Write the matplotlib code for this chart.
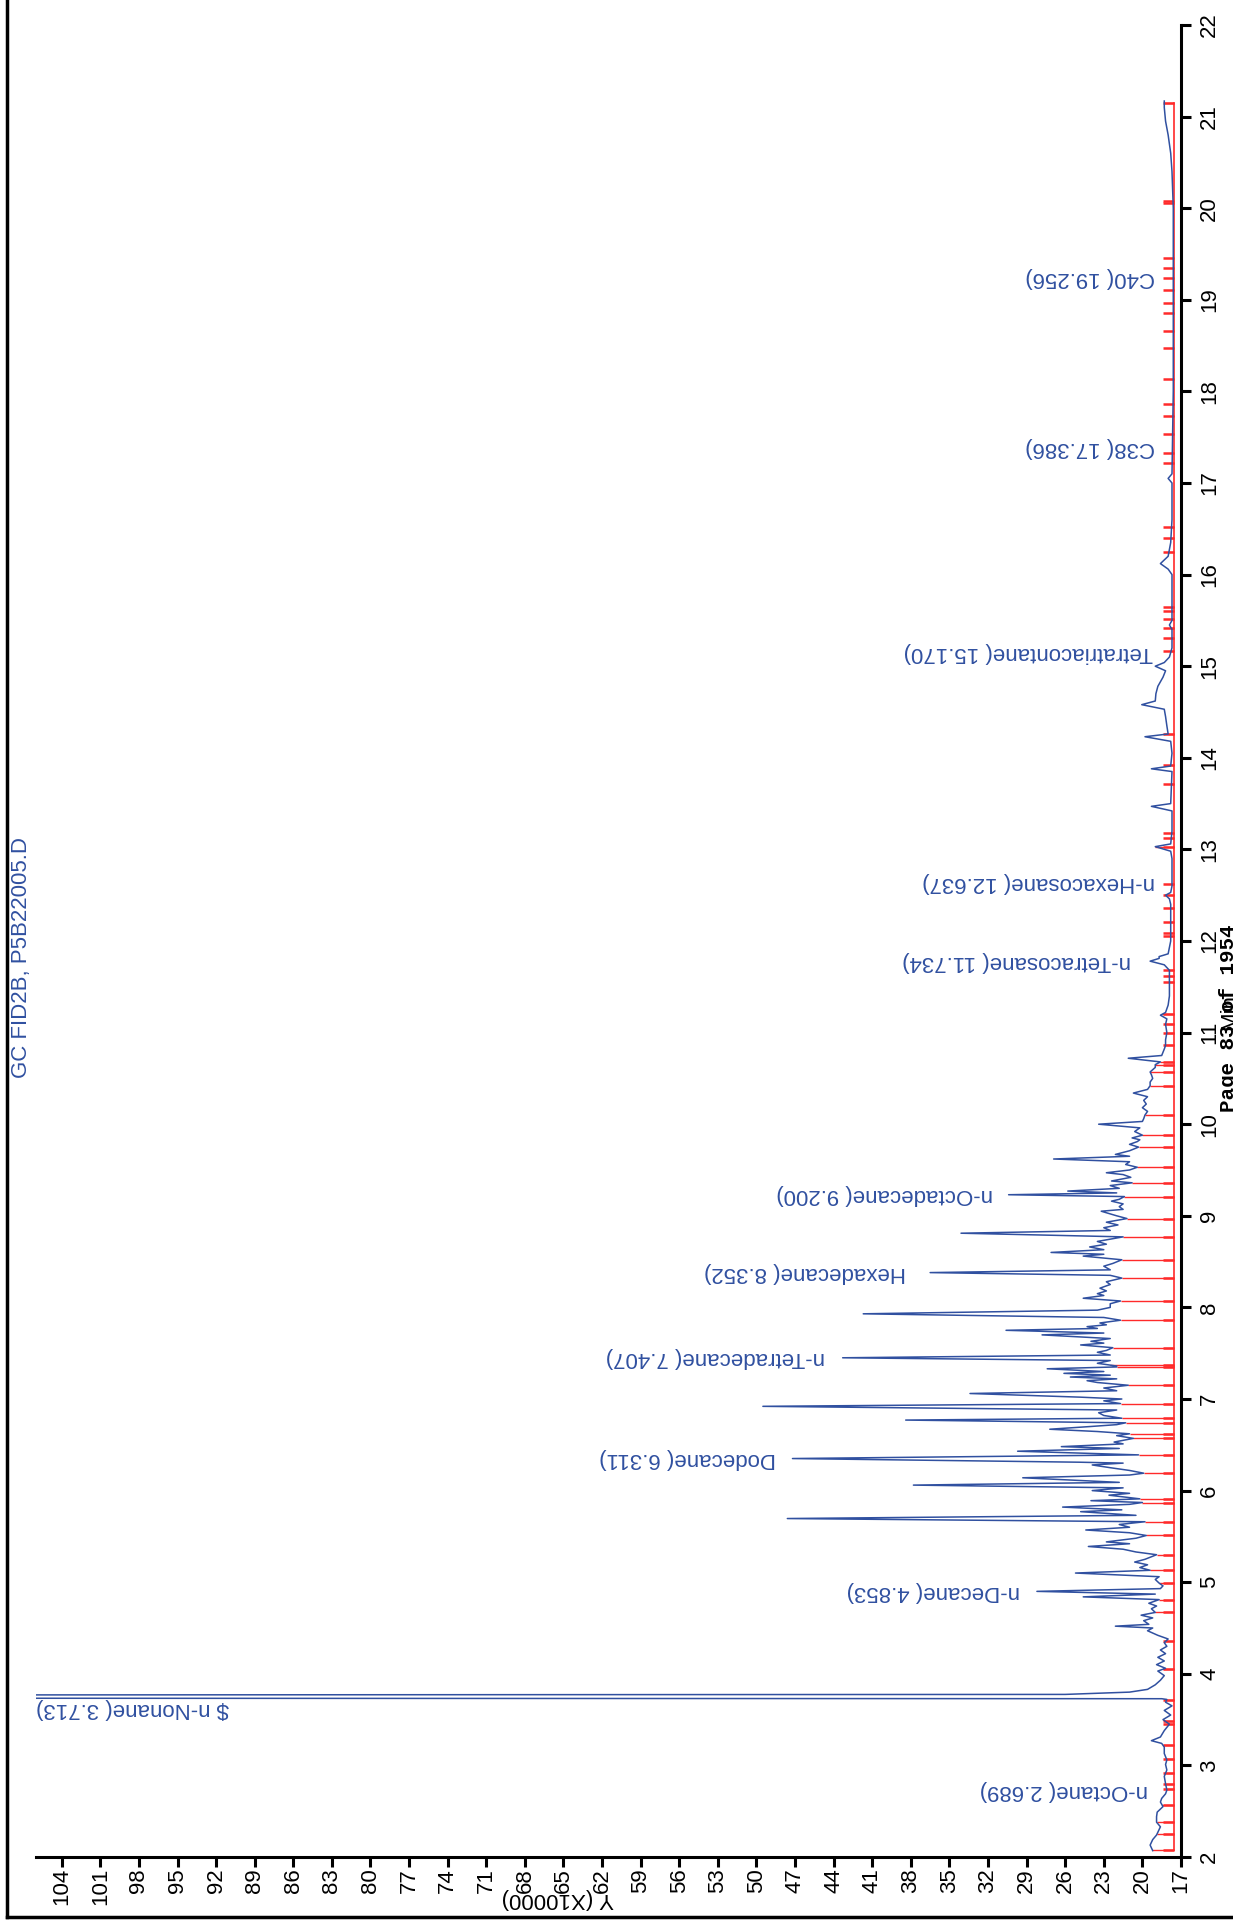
import numpy as np
import matplotlib
matplotlib.use("Agg")
import matplotlib.pyplot as plt
from matplotlib.lines import Line2D
from matplotlib.collections import LineCollection

plt.rcParams["font.family"] = ["Liberation Sans", "DejaVu Sans"]

BLUE = "#3050a0"
RED = "#ff2a2a"

# ---- chromatogram (retention time in min, response in x10000) ----
trace_t = [
    2.07, 2.10, 2.13, 2.19, 2.24, 2.30, 2.33, 2.38, 2.44, 2.49, 2.55, 2.60, 2.64, 2.69, 2.73,
    2.80, 2.88, 2.95, 3.01, 3.06, 3.13, 3.20, 3.24, 3.27, 3.31, 3.38, 3.45, 3.50, 3.55, 3.60,
    3.65, 3.69, 3.72, 3.728, 3.75, 3.775, 3.80, 3.83, 3.88, 3.93, 3.98, 4.03, 4.06, 4.10, 4.14,
    4.18, 4.22, 4.26, 4.30, 4.34, 4.38, 4.42, 4.47, 4.50, 4.52, 4.54, 4.58, 4.61, 4.64, 4.67,
    4.71, 4.74, 4.77, 4.81, 4.84, 4.87, 4.90, 4.93, 4.96, 4.99, 5.03, 5.06, 5.10, 5.13, 5.16,
    5.19, 5.22, 5.25, 5.30, 5.33, 5.36, 5.39, 5.42, 5.44, 5.48, 5.51, 5.54, 5.57, 5.60, 5.63,
    5.66, 5.695, 5.73, 5.77, 5.79, 5.82, 5.85, 5.87, 5.89, 5.91, 5.95, 5.97, 6.00, 6.03, 6.06,
    6.09, 6.11, 6.14, 6.17, 6.19, 6.22, 6.25, 6.28, 6.30, 6.31, 6.35, 6.39, 6.43, 6.46, 6.48,
    6.51, 6.53, 6.57, 6.60, 6.62, 6.645, 6.67, 6.70, 6.72, 6.74, 6.77, 6.79, 6.82, 6.85, 6.88,
    6.92, 6.95, 6.98, 7.00, 7.02, 7.06, 7.09, 7.12, 7.15, 7.18, 7.20, 7.22, 7.24, 7.26, 7.28,
    7.30, 7.33, 7.35, 7.36, 7.39, 7.42, 7.45, 7.48, 7.51, 7.53, 7.56, 7.59, 7.61, 7.63, 7.66,
    7.70, 7.72, 7.75, 7.77, 7.79, 7.81, 7.83, 7.86, 7.89, 7.93, 7.97, 8.00, 8.04, 8.07, 8.10,
    8.13, 8.15, 8.18, 8.21, 8.25, 8.28, 8.32, 8.35, 8.38, 8.41, 8.45, 8.48, 8.52, 8.56, 8.58,
    8.60, 8.63, 8.66, 8.69, 8.72, 8.77, 8.81, 8.84, 8.87, 8.90, 8.93, 8.97, 9.00, 9.05, 9.07,
    9.10, 9.13, 9.16, 9.18, 9.21, 9.23, 9.25, 9.27, 9.30, 9.33, 9.36, 9.38, 9.42, 9.45, 9.47,
    9.50, 9.53, 9.56, 9.59, 9.62, 9.65, 9.67, 9.71, 9.75, 9.78, 9.81, 9.83, 9.85, 9.88, 9.92,
    9.96, 10.00, 10.03, 10.06, 10.10, 10.14, 10.18, 10.22, 10.26, 10.30, 10.34, 10.38, 10.42,
    10.46, 10.50, 10.54, 10.57, 10.62, 10.65, 10.68, 10.72, 10.75, 10.82, 10.86, 10.92, 11.00,
    11.09, 11.15, 11.19, 11.22, 11.30, 11.40, 11.55, 11.62, 11.68, 11.74, 11.78, 11.81, 11.83,
    11.86, 12.00, 12.20, 12.40, 12.46, 12.50, 12.53, 12.60, 12.90, 12.98, 13.03, 13.06, 13.20,
    13.42, 13.47, 13.50, 13.85, 13.88, 13.91, 14.05, 14.18, 14.23, 14.26, 14.35, 14.45, 14.53,
    14.58, 14.62, 14.70, 14.78, 14.88, 14.95, 15.00, 15.04, 15.10, 15.20, 15.40, 15.45, 15.50,
    16.00, 16.06, 16.12, 16.20, 16.35, 16.60, 17.00, 17.05, 17.10, 18.00, 19.00, 20.00, 20.40,
    20.60, 20.80, 20.95, 21.10, 21.17,
]
trace_v = [
    19.2, 19.3, 19.4, 19.2, 18.9, 18.7, 18.6, 18.9, 18.9, 18.85, 18.4, 18.6, 18.5, 18.2, 18.1,
    18.2, 18.3, 18.1, 18.2, 18.1, 18.3, 18.3, 18.5, 19.3, 18.6, 18.3, 17.9, 18.4, 17.8, 18.3,
    17.7, 18.2, 18.1, 18.5, 400.0, 26.0, 21.0, 19.6, 19.0, 18.6, 18.3, 18.8, 18.2, 18.9, 18.3,
    18.8, 18.2, 18.6, 18.1, 18.3, 18.0, 18.8, 19.6, 19.2, 22.1, 19.5, 19.9, 19.2, 20.1, 19.0,
    19.3, 18.9, 19.5, 18.7, 24.6, 19.0, 28.2, 18.6, 18.4, 18.7, 19.0, 18.7, 25.2, 19.4, 20.2,
    19.6, 20.6, 19.8, 18.9, 20.5, 21.5, 24.2, 21.0, 22.8, 20.5, 19.7, 21.0, 24.4, 21.0, 21.8,
    19.8, 47.6, 20.5, 24.8, 21.6, 26.2, 21.0, 20.0, 24.0, 20.2, 22.6, 21.0, 23.9, 21.5, 37.8,
    21.8, 24.8, 29.3, 21.0, 19.9, 21.0, 22.5, 23.9, 21.5, 24.9, 47.2, 20.3, 29.7, 21.8, 26.3,
    21.5, 22.2, 20.7, 22.0, 21.0, 23.5, 27.2, 24.0, 22.0, 21.3, 38.4, 21.6, 23.0, 23.4, 22.0,
    49.5, 21.7, 23.0, 21.6, 24.8, 33.4, 22.0, 23.0, 21.1, 23.5, 24.3, 22.0, 25.6, 22.5, 26.1,
    23.0, 27.4, 22.0, 22.0, 23.5, 22.5, 43.3, 22.5, 23.5, 22.8, 22.3, 24.8, 23.0, 24.0, 22.5,
    27.8, 23.0, 30.6, 23.5, 24.3, 22.8, 23.3, 21.7, 23.0, 41.7, 23.5, 22.5, 22.5, 21.7, 24.6,
    23.0, 23.5, 22.8, 23.3, 22.5, 22.8, 21.6, 22.5, 36.5, 22.5, 23.0, 22.3, 21.6, 24.6, 23.0,
    27.1, 23.0, 24.1, 22.8, 23.5, 21.5, 34.1, 22.5, 23.0, 21.9, 22.8, 21.2, 22.0, 23.2, 21.5,
    21.8, 21.5, 22.4, 21.8, 21.4, 30.4, 22.0, 25.8, 21.8, 22.5, 20.8, 22.4, 20.9, 21.5, 22.8,
    21.0, 20.4, 21.3, 21.0, 26.9, 21.0, 22.1, 21.0, 20.3, 21.0, 20.4, 20.2, 20.8, 20.0, 20.6,
    20.2, 23.4, 20.0, 19.9, 19.8, 19.6, 20.0, 19.7, 19.9, 19.6, 20.7, 19.6, 19.4,
    19.4, 19.2, 19.3, 19.4, 19.0, 19.0, 18.6, 21.1, 18.5, 18.3, 18.2, 18.2, 18.1,
    18.2, 18.1, 18.6, 18.2, 18.0, 17.9, 17.9, 17.9, 17.9, 18.3, 19.4, 18.7, 18.7,
    18.0, 17.8, 17.8, 17.8, 17.9, 18.2, 17.8, 17.7, 17.7, 17.8, 19.0, 17.8, 17.7,
    17.7, 19.3, 17.8, 17.7, 19.3, 17.8, 17.7, 17.8, 19.8, 18.0, 18.1, 18.2, 18.3,
    20.05, 19.0, 18.95, 18.8, 18.4, 18.2, 19.0, 18.3, 17.9, 17.7, 17.7, 17.9, 17.7,
    17.7, 18.0, 18.6, 18.0, 17.8, 17.7, 17.7, 18.0, 17.7, 17.6, 17.6, 17.6, 17.7,
    17.8, 18.0, 18.2, 18.3, 18.3,
]

# integration marks (peak start / end times) and the integration baseline level
mark_t = [
    2.08, 2.25, 2.38, 2.57, 2.74, 2.80, 2.92, 3.07, 3.22, 3.45, 3.49, 3.71, 4.05, 4.36,
    4.67, 4.81, 4.99, 5.13, 5.30, 5.51, 5.66, 5.87, 5.91, 6.19, 6.39, 6.57, 6.62, 6.74,
    6.79, 6.95, 7.15, 7.35, 7.37, 7.56, 7.86, 8.07, 8.32, 8.52, 8.77, 8.97, 9.21, 9.36,
    9.53, 9.75, 9.88, 10.10, 10.42, 10.57, 10.65, 10.68, 10.86, 11.00, 11.09, 11.20,
    11.55, 11.62, 11.68, 12.05, 12.09, 12.21, 12.36, 12.50, 12.62, 13.03, 13.12, 13.18,
    13.71, 13.92, 14.26, 15.17, 15.31, 15.42, 15.52, 15.60, 15.65, 16.25, 16.40, 16.52,
    17.22, 17.33, 17.53, 17.73, 17.86, 18.13, 18.47, 18.66, 18.86, 18.97, 19.11, 19.24,
    19.35, 19.46, 20.06, 20.08, 21.15,
]
baseline_v = 17.54

# peak annotations
label_names = [
    "n-Octane( 2.689)", "$ n-Nonane( 3.713)", "n-Decane( 4.853)", "Dodecane( 6.311)",
    "n-Tetradecane( 7.407)", "Hexadecane( 8.352)", "n-Octadecane( 9.200)",
    "n-Tetracosane( 11.734)", "n-Hexacosane( 12.637)", "Tetratriacontane( 15.170)",
    "C38( 17.386)", "C40( 19.256)",
]
label_t = [2.73, 3.62, 4.90, 6.35, 7.45, 8.38, 9.23, 11.78, 12.64, 15.15, 17.39, 19.24]
label_v = [19.6, 106.0, 29.5, 48.5, 44.7, 38.4, 31.6, 20.9, 19.0, 19.15, 19.0, 19.0]

resp_ticks = list(range(17, 105, 3))
time_ticks = list(range(2, 23))

W, H = 1233, 1927
fig = plt.figure(figsize=(W / 100, H / 100), dpi=100)
ax = fig.add_axes([36 / W, 1 - 1857 / H, (1181 - 36) / W, (1857 - 25) / H])

# integration baseline + marks
ax.plot([baseline_v, baseline_v], [mark_t[0], mark_t[-1]], color=RED, lw=1.2, zorder=2)
mark_end = np.interp(mark_t, trace_t, trace_v)
segs = [[(baseline_v, t), (v, t)] for t, v in zip(mark_t, mark_end)]
ax.add_collection(LineCollection(segs, colors=RED, linewidths=1.0, zorder=2))
short = [[(baseline_v, t), (baseline_v + 0.85, t)] for t in mark_t]
ax.add_collection(LineCollection(short, colors=RED, linewidths=1.8, zorder=2))

ax.plot(trace_v, trace_t, color=BLUE, lw=1.1, zorder=3)

ax.set_xlim(106, 17)
ax.set_ylim(2, 22)

for name, t, v in zip(label_names, label_t, label_v):
    end_align = v >= 106
    ax.text(v, t, name, rotation=180, rotation_mode="anchor",
            ha="right" if end_align else "left", va="center",
            color=BLUE, fontsize=16, zorder=4)

for s in ("top", "left"):
    ax.spines[s].set_visible(False)
for s in ("bottom", "right"):
    ax.spines[s].set_linewidth(2.2)

ax.yaxis.tick_right()
ax.set_xticks(resp_ticks)
ax.set_yticks(time_ticks)
ax.tick_params(axis="x", direction="out", length=7, width=2.2, labelsize=16, pad=1,
               labelrotation=90)
ax.tick_params(axis="y", direction="out", length=7, width=2.2, labelsize=16, pad=6,
               labelrotation=90)
for lbl in ax.get_yticklabels():
    lbl.set_va("center")

# page furniture
fig.text(558 / W, 1 - 1898 / H, "Y (X10000)", rotation=180, ha="center", va="center",
         fontsize=16)
fig.text(22 / W, 1 - 958 / H, "GC FID2B, P5B22005.D", rotation=90, ha="center",
         va="center", color=BLUE, fontsize=16)
fig.text(1219 / W, 1 - 1112 / H, "Page 83 of 1954", rotation=90, ha="left", va="bottom",
         family="Liberation Mono", weight="bold", fontsize=15)
fig.text(1219 / W, 1 - 1012 / H, "Min", rotation=90, ha="left", va="center", fontsize=16)

fig.add_artist(Line2D([7 / W, 7 / W], [1 - 1917 / H, 1], color="black", lw=2.5,
                      transform=fig.transFigure))
fig.add_artist(Line2D([7 / W, 1], [1 - 1917 / H, 1 - 1917 / H], color="black", lw=2.5,
                      transform=fig.transFigure))

fig.savefig("out.png", dpi=100)
